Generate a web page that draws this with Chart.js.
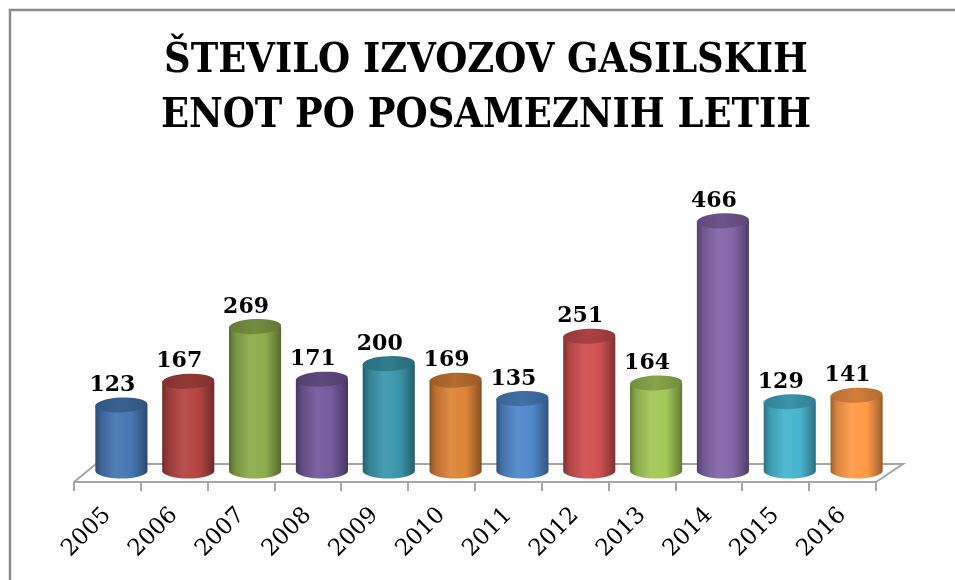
<!DOCTYPE html>
<html>
<head>
<meta charset="utf-8">
<script src="https://cdn.jsdelivr.net/npm/chart.js@4.4.1/dist/chart.umd.min.js"></script>
<style>
  html, body { margin: 0; padding: 0; background: #fff; overflow: hidden; }
  #wrap { position: relative; width: 955px; height: 580px; }
</style>
</head>
<body>
<div id="wrap"><canvas id="c"></canvas></div>
<script>
const titleLines = ['ŠTEVILO IZVOZOV GASILSKIH', 'ENOT PO POSAMEZNIH LETIH'];
const categories = ['2005', '2006', '2007', '2008', '2009', '2010', '2011', '2012', '2013', '2014', '2015', '2016'];
const values = [123, 167, 269, 171, 200, 169, 135, 251, 164, 466, 129, 141];
const barColors = ['#4677b2', '#b54542', '#8cac4c', '#74599b', '#3b97ad', '#dd8437',
                   '#4f88cc', '#d05050', '#a4c858', '#8466a9', '#48b4d0', '#ff9a48'];

const BAR_DX = 14, BAR_DY = -11, LABEL_DX = 5, RY = 7.5;
const FLOOR_DX = 22, FLOOR_DY = -18;

function shade(hex, f) {
  const n = parseInt(hex.slice(1), 16);
  let r = (n >> 16) & 255, g = (n >> 8) & 255, b = n & 255;
  if (f < 1) { r *= f; g *= f; b *= f; }
  else { r = r + (255 - r) * (f - 1); g = g + (255 - g) * (f - 1); b = b + (255 - b) * (f - 1); }
  return 'rgb(' + Math.round(r) + ',' + Math.round(g) + ',' + Math.round(b) + ')';
}

const framePlugin = {
  id: 'frame',
  beforeDraw(chart) {
    const ctx = chart.ctx;
    ctx.save();
    ctx.fillStyle = '#fff';
    ctx.fillRect(0, 0, chart.width, chart.height);
    ctx.strokeStyle = '#8c8c8c';
    ctx.lineWidth = 2.5;
    ctx.beginPath();
    ctx.moveTo(10, chart.height + 5);
    ctx.lineTo(10, 10);
    ctx.lineTo(chart.width + 5, 10);
    ctx.stroke();
    ctx.restore();
  }
};

const floorPlugin = {
  id: 'floor',
  beforeDatasetsDraw(chart) {
    const ctx = chart.ctx, a = chart.chartArea;
    const y0 = chart.scales.y.getPixelForValue(0);
    ctx.save();
    ctx.strokeStyle = '#a6a6a6';
    ctx.lineWidth = 2;
    ctx.beginPath();
    ctx.moveTo(a.left, y0);
    ctx.lineTo(a.left + FLOOR_DX, y0 + FLOOR_DY);
    ctx.lineTo(a.right + FLOOR_DX + 5, y0 + FLOOR_DY);
    ctx.lineTo(a.right, y0);
    ctx.stroke();
    ctx.restore();
  }
};

const cylinderPlugin = {
  id: 'cylinders',
  afterDatasetsDraw(chart) {
    const ctx = chart.ctx;
    const meta = chart.getDatasetMeta(0);
    const base = chart.scales.y.getPixelForValue(0);
    ctx.save();
    meta.data.forEach((bar, i) => {
      const col = barColors[i];
      const cx = bar.x + BAR_DX;
      const rx = bar.width / 2;
      const yTop = bar.y + BAR_DY;
      const yBot = base + BAR_DY;
      const g = ctx.createLinearGradient(cx - rx, 0, cx + rx, 0);
      g.addColorStop(0, shade(col, 0.62));
      g.addColorStop(0.12, shade(col, 0.85));
      g.addColorStop(0.4, shade(col, 1.06));
      g.addColorStop(0.7, col);
      g.addColorStop(0.92, shade(col, 0.72));
      g.addColorStop(1, shade(col, 0.6));
      ctx.fillStyle = g;
      ctx.beginPath();
      ctx.moveTo(cx - rx, yTop);
      ctx.lineTo(cx - rx, yBot);
      ctx.ellipse(cx, yBot, rx, RY, 0, Math.PI, 0, true);
      ctx.lineTo(cx + rx, yTop);
      ctx.closePath();
      ctx.fill();
      const gt = ctx.createLinearGradient(cx - rx, 0, cx + rx, 0);
      gt.addColorStop(0, shade(col, 0.72));
      gt.addColorStop(0.5, shade(col, 0.82));
      gt.addColorStop(1, shade(col, 0.7));
      ctx.fillStyle = gt;
      ctx.beginPath();
      ctx.ellipse(cx, yTop, rx, RY, -0.04, 0, Math.PI * 2);
      ctx.fill();
      ctx.fillStyle = '#000';
      ctx.font = 'bold 22px "DejaVu Serif"';
      ctx.textAlign = 'center';
      ctx.textBaseline = 'alphabetic';
      ctx.fillText(String(values[i]), bar.x + LABEL_DX, yTop - 14);
    });
    ctx.restore();
  }
};

new Chart(document.getElementById('c'), {
  type: 'bar',
  data: {
    labels: categories,
    datasets: [{
      data: values,
      backgroundColor: 'rgba(0,0,0,0)',
      borderWidth: 0,
      categoryPercentage: 1,
      barPercentage: 0.78
    }]
  },
  options: {
    responsive: true,
    maintainAspectRatio: false,
    animation: false,
    layout: { padding: { left: 74, right: 57, top: 0, bottom: 0 } },
    plugins: {
      legend: { display: false },
      tooltip: { enabled: false },
      title: {
        display: true,
        text: titleLines,
        color: '#000',
        font: { family: '"DejaVu Serif Condensed", "DejaVu Serif"', weight: 'bold', size: 41, lineHeight: 1.34 },
        padding: { top: 34, bottom: 16 }
      }
    },
    scales: {
      x: {
        grid: { display: true, drawOnChartArea: false, drawTicks: true, tickLength: 9, color: '#a6a6a6', lineWidth: 2, offset: true },
        border: { display: true, color: '#a6a6a6', width: 2 },
        ticks: { color: '#000', font: { family: '"DejaVu Serif"', size: 23 }, minRotation: 45, maxRotation: 45, padding: 11, autoSkip: false },
        afterFit(scale) { scale.height = 98; }
      },
      y: {
        position: 'right',
        min: 0,
        max: 600,
        display: true,
        grid: { display: false },
        border: { display: false },
        ticks: { display: false },
        afterFit(scale) { scale.width = 22; }
      }
    }
  },
  plugins: [framePlugin, floorPlugin, cylinderPlugin]
});
</script>
</body>
</html>
